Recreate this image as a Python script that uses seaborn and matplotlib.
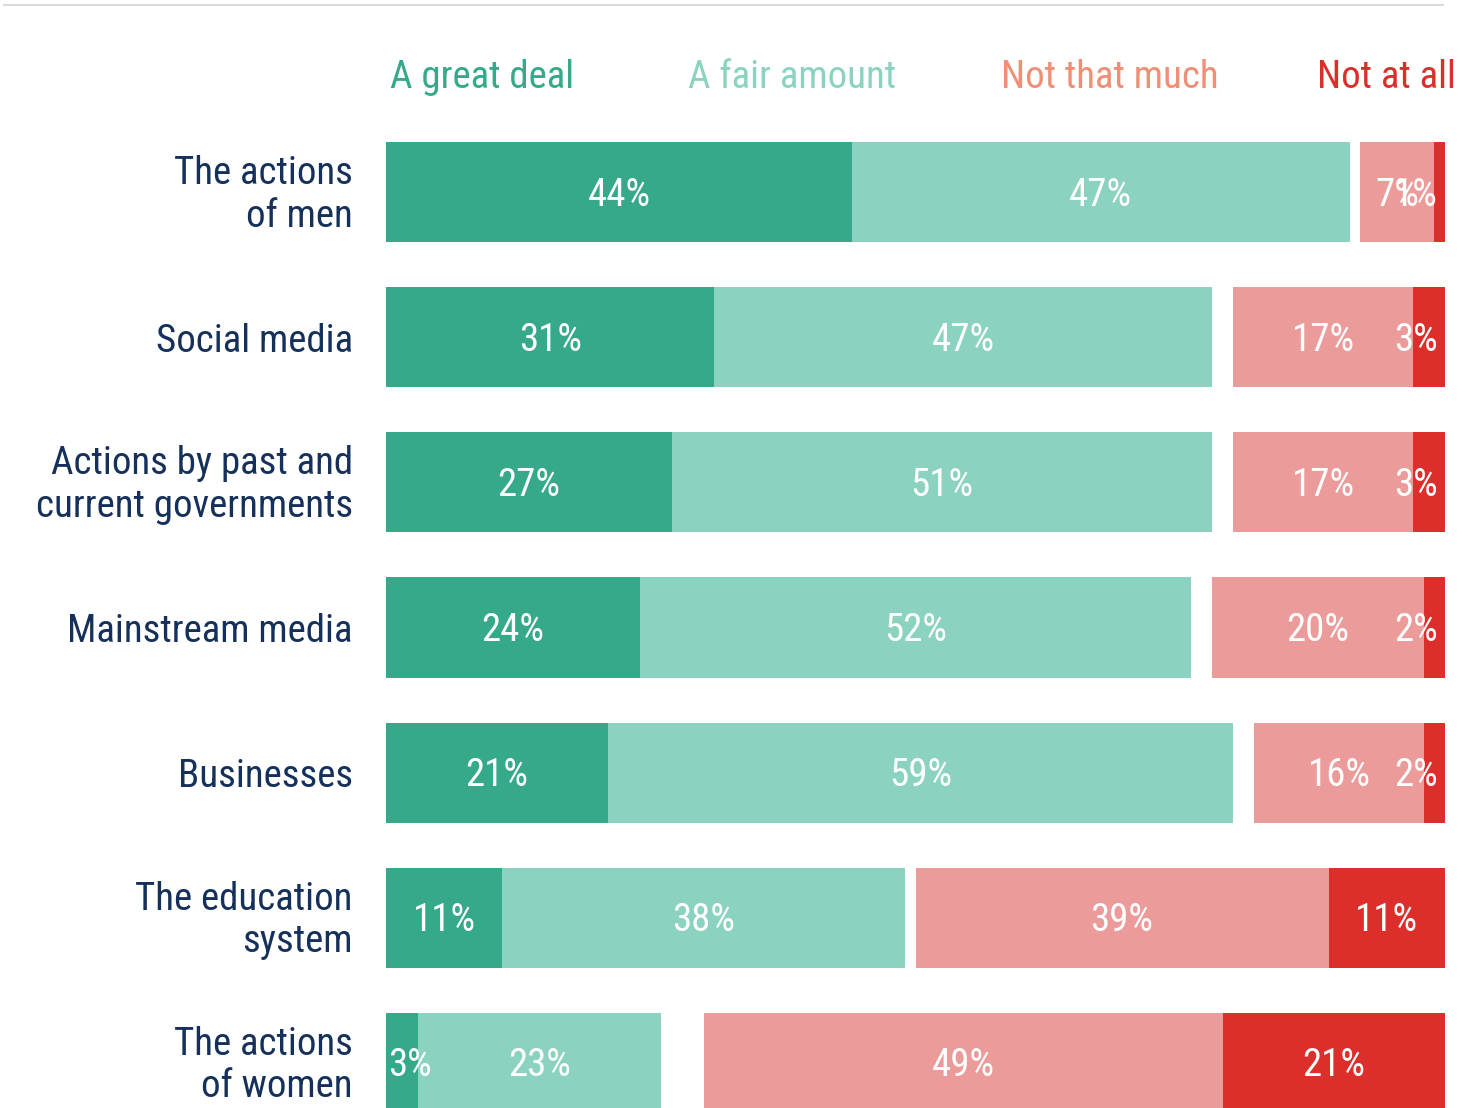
import matplotlib
matplotlib.use("Agg")
import matplotlib.pyplot as plt
import matplotlib.transforms as mtransforms
from matplotlib import font_manager as fm
from matplotlib.lines import Line2D
import seaborn as sns

# data
items = ["The actions\nof men", "Social media", "Actions by past and\ncurrent governments",
         "Mainstream media", "Businesses", "The education\nsystem", "The actions\nof women"]
great_deal = [44, 31, 27, 24, 21, 11, 3]
fair_amount = [47, 47, 51, 52, 59, 38, 23]
not_much = [7, 17, 17, 20, 16, 39, 49]
not_at_all = [1, 3, 3, 2, 2, 11, 21]
legend_labels = ["A great deal", "A fair amount", "Not that much", "Not at all"]

c_great = "#35a98a"
c_fair = "#8bd3c0"
c_much = "#ec9b9b"
c_none = "#dc2f2c"
legend_colors = [c_great, c_fair, "#ef8f76", c_none]
navy = "#15305a"

sns.set_style("white")

# look for a condensed face, the reference uses a narrow sans
names = {f.name for f in fm.fontManager.ttflist}
condensed_files = [f for f in fm.fontManager.ttflist
                   if "Condensed" in f.fname or "Narrow" in f.fname]
family, stretch, fs = None, "normal", 25
for cand in ["Roboto Condensed", "Liberation Sans Narrow", "Open Sans Condensed",
             "Noto Sans Condensed", "DejaVu Sans Condensed"]:
    if cand in names:
        family, fs = cand, 28
        break
if family is None and condensed_files:
    family, stretch, fs = condensed_files[0].name, "condensed", 28
if family is None:
    family = "Roboto"
plt.rcParams["font.family"] = [family, "DejaVu Sans"]
plt.rcParams["font.stretch"] = stretch

fig = plt.figure(figsize=(14.71, 11.08), dpi=100)
ax = fig.add_axes([386 / 1471, 0, 1059 / 1471, (1108 - 119.5) / 1108])

# negatives are right-aligned at 100, positives start at 0
neg_total = [a + b for a, b in zip(not_much, not_at_all)]
pos_total = [a + b for a, b in zip(great_deal, fair_amount)]
layers = [
    ([100] * len(items), c_none),
    ([100 - n for n in not_at_all], c_much),
    ([100 - n for n in neg_total], "white"),
    (pos_total, c_fair),
    (great_deal, c_great),
]
for vals, col in layers:
    sns.barplot(x=vals, y=items, orient="h", color=col, saturation=1,
                width=0.69, linewidth=0, ax=ax)

# value labels, nudged a few pixels down so digits sit centred in the bar
lab_trans = mtransforms.offset_copy(ax.transData, fig=fig, y=-3, units="dots")
for i in range(len(items)):
    segs = [
        (0, great_deal[i]),
        (great_deal[i], pos_total[i]),
        (100 - neg_total[i], 100 - not_at_all[i]),
        (100 - not_at_all[i], 100),
    ]
    vals = [great_deal[i], fair_amount[i], not_much[i], not_at_all[i]]
    for k, ((x0, x1), v) in enumerate(zip(segs, vals)):
        if x1 - x0 < 4 and k == 0:
            x, ha = x0 + 0.2, "left"
        elif x1 - x0 < 4 and k == 3:
            x, ha = 99.3, "right"
        else:
            x, ha = (x0 + x1) / 2, "center"
        ax.text(x, i, f"{v}%", ha=ha, va="center", color="white", fontsize=fs,
                transform=lab_trans)

ax.set_xlim(0, 100)
ax.set_ylim(6 + (1108 - 1063) / 145, -0.5)
ax.set_xlabel("")
ax.set_ylabel("")
ax.set_xticks([])
ax.tick_params(axis="y", length=0, pad=24, labelsize=fs, labelcolor=navy)
up = mtransforms.ScaledTranslation(0, 4 / 100, fig.dpi_scale_trans)
for lab in ax.get_yticklabels():
    lab.set_linespacing(1.19)
    if "\n" in lab.get_text():
        lab.set_transform(lab.get_transform() + up)
sns.despine(ax=ax, left=True, bottom=True)

# legend as coloured text
trans = mtransforms.blended_transform_factory(ax.transData, fig.transFigure)
for x, lab, col in zip([0.4, 28.5, 58.1, 87.9], legend_labels, legend_colors):
    ax.text(x, 1 - 88 / 1108, lab, transform=trans, color=col, fontsize=fs,
            ha="left", va="baseline", clip_on=False)

fig.add_artist(Line2D([4 / 1471, 1443 / 1471], [1 - 5 / 1108] * 2,
                      color="#d9d9d9", lw=1.5, transform=fig.transFigure))

fig.savefig("out.png", dpi=100)
